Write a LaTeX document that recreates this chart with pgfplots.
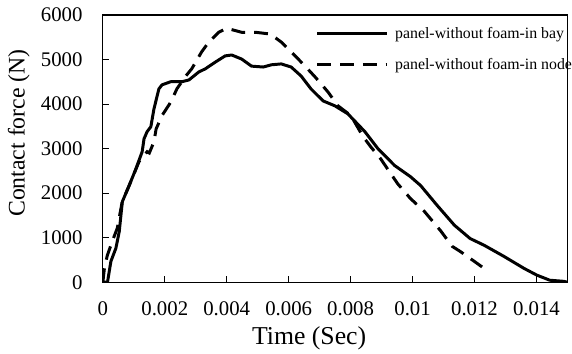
\documentclass[border=0pt]{standalone}
\usepackage{pgfplots}
\pgfplotsset{compat=1.18}
\usepackage{fontspec}
\setmainfont{Liberation Serif}
\begin{document}
\begin{tikzpicture}
\begin{axis}[
  at={(0,0)}, anchor=south west,
  scale only axis, width=467.5bp, height=269bp,
  xmin=0, xmax=0.015, ymin=0, ymax=6000,
  axis line style={line width=1.3bp},
  tick style={line width=1bp, black},
  major tick length=6bp,
  tick align=inside,
  xtick pos=bottom, ytick pos=left,
  xtick={0,0.002,0.004,0.006,0.008,0.01,0.012,0.014},
  xticklabels={0,0.002,0.004,0.006,0.008,0.01,0.012,0.014},
  ytick={0,1000,2000,3000,4000,5000,6000},
  yticklabels={0,1000,2000,3000,4000,5000,6000},
  scaled x ticks=false,
  ticklabel style={font=\fontsize{21}{25}\selectfont},
  yticklabel style={xshift=-17bp},
  xticklabel style={yshift=-16bp},
  xlabel={Time (Sec)},
  ylabel={Contact force (N)},
  xlabel style={font=\fontsize{26}{30}\selectfont, at={(axis description cs:0.444,-0.234)}, anchor=base},
  ylabel style={font=\fontsize{24}{28}\selectfont, at={(axis description cs:-0.181,0.558)}, anchor=center, rotate=0},
  legend image code/.code={\draw[#1] (0bp,0bp) -- (70bp,0bp); \path (77bp,0bp);},
  legend cell align=left,
  legend style={draw=none, fill=none, inner sep=0pt,
    at={(axis description cs:0.4577,0.955)}, anchor=north west,
    font=\fontsize{16}{19}\selectfont,
    nodes={inner sep=0pt},
    row sep=19bp},
]
\addplot[black, line width=3bp, line join=round] coordinates {
(0,0) (0.00015,0) (0.00026,470) (0.00042,760) (0.00053,1140) (0.00063,1810)
(0.00085,2170) (0.00107,2550) (0.00127,2930) (0.00133,3220) (0.00143,3380)
(0.00155,3490) (0.00165,3890) (0.00181,4340) (0.00191,4430) (0.00219,4500)
(0.00255,4500) (0.00278,4540) (0.0031,4720) (0.00331,4790) (0.00363,4940)
(0.00395,5080) (0.00416,5100) (0.00448,5010) (0.0048,4850) (0.00518,4830)
(0.00544,4880) (0.00576,4900) (0.00608,4830) (0.0064,4630) (0.00672,4340)
(0.00711,4070) (0.00749,3960) (0.00791,3780) (0.00846,3380) (0.00888,3000)
(0.00942,2620) (0.00993,2370) (0.01026,2170) (0.0108,1720) (0.01135,1280)
(0.01186,980) (0.01231,830) (0.01295,580) (0.0136,310) (0.01401,160)
(0.01443,45) (0.01488,20) (0.015,0)
};
\addlegendentry{panel-without foam-in bay}
\addplot[black, line width=3bp, dash pattern=on 14bp off 9bp] coordinates {
(0,0) (0.00005,310) (0.000144,600) (0.000305,920) (0.000465,1210)
(0.000626,1810) (0.00085,2170) (0.00117,2710) (0.00143,2930) (0.0015,2900)
(0.00165,3150) (0.00172,3440) (0.00191,3740) (0.0022,4050) (0.00239,4340)
(0.00268,4630) (0.00287,4790) (0.00319,5170) (0.00342,5390) (0.00374,5610)
(0.004,5700) (0.00448,5610) (0.00493,5610) (0.00541,5570) (0.00576,5390)
(0.00621,5080) (0.00653,4850) (0.00685,4610) (0.00727,4270) (0.00759,3960)
(0.00801,3740) (0.0084,3270) (0.00865,3040) (0.00897,2770) (0.00952,2210)
(0.00993,1880) (0.01038,1590) (0.0109,1160) (0.01128,805) (0.01154,690)
(0.01199,470) (0.01231,310)
};
\addlegendentry{panel-without foam-in node}
\end{axis}
\path[use as bounding box] (-103.5bp,-72bp) rectangle (468.5bp,284bp);
\end{tikzpicture}
\end{document}
